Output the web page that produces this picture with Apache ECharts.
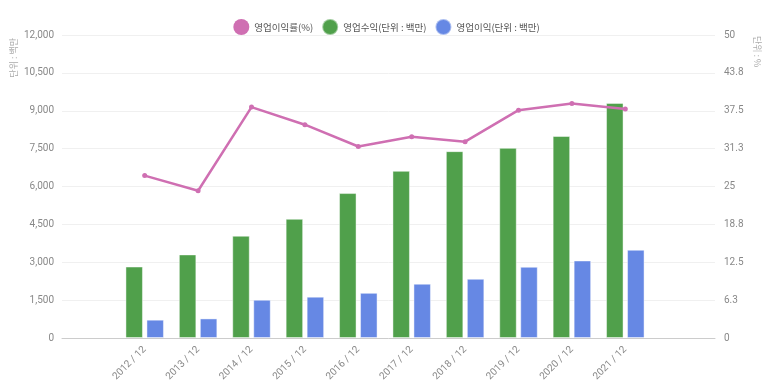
<!DOCTYPE html>
<html>
<head>
<meta charset="utf-8">
<script src="https://cdn.jsdelivr.net/npm/echarts@6/dist/echarts.min.js"></script>
<style>
html,body{margin:0;padding:0;background:#fff;}
#chart{width:773px;height:389px;}
</style>
</head>
<body>
<div id="chart"></div>
<script>
const categories = ['2012 / 12','2013 / 12','2014 / 12','2015 / 12','2016 / 12','2017 / 12','2018 / 12','2019 / 12','2020 / 12','2021 / 12'];
const revenue = [2830, 3310, 4050, 4720, 5740, 6620, 7400, 7530, 8000, 9310];
const operatingProfit = [725, 775, 1515, 1635, 1790, 2150, 2345, 2820, 3070, 3495];
const marginPct = [26.8, 24.3, 38.1, 35.2, 31.6, 33.2, 32.4, 37.6, 38.7, 37.8];
const leftMax = 12000, leftInterval = 1500;
const rightMax = 50, rightInterval = 6.25;

const FONT = '"Noto Sans CJK KR", "Noto Sans", sans-serif';
const NUMFONT = 'Roboto, "Liberation Sans", sans-serif';
const PINK = '#cf6fb2', GREEN = '#50a04b', BLUE = '#6688e4';

const chart = echarts.init(document.getElementById('chart'));
chart.setOption({
  animation: false,
  backgroundColor: '#fff',
  legend: {
    top: 13, left: 'center',
    icon: 'circle', itemWidth: 16, itemHeight: 16, itemGap: 8,
    textStyle: {color: '#555', fontSize: 9.5, fontFamily: FONT},
    data: ['영업이익률(%)', '영업수익(단위 : 백만)', '영업이익(단위 : 백만)']
  },
  graphic: [
    {type: 'text', left: 9, top: 38, rotation: Math.PI/2,
     style: {text: '단위 : 백만', fill: '#aaa', font: '9px ' + FONT}},
    {type: 'text', left: 753, top: 36, rotation: -Math.PI/2,
     style: {text: '단위 : %', fill: '#aaa', font: '9px ' + FONT}}
  ],
  grid: [
    {left: 62, right: 58, top: 35, bottom: 51},
    {left: 118, right: 121, top: 35, bottom: 51}
  ],
  xAxis: [
    {type: 'value', gridIndex: 0, min: 0, max: 1, axisLabel: {show: false}, axisTick: {show: false},
     splitLine: {show: false}, axisLine: {show: true, onZero: false, lineStyle: {color: '#ccc'}}},
    {type: 'category', gridIndex: 1, data: categories,
     axisLine: {show: false}, axisTick: {show: false},
     axisLabel: {rotate: 45, color: '#888', fontSize: 10, fontFamily: NUMFONT, margin: 10, interval: 0}}
  ],
  yAxis: [
    {type: 'value', gridIndex: 0, min: 0, max: leftMax, interval: leftInterval, position: 'left',
     axisLine: {show: false}, axisTick: {show: false},
     axisLabel: {color: '#888', fontSize: 10, fontFamily: NUMFONT, margin: 8,
       formatter: v => v.toLocaleString('en-US')},
     splitLine: {lineStyle: {color: '#f0f0f0'}}},
    {type: 'value', gridIndex: 0, min: 0, max: rightMax, interval: rightInterval, position: 'right',
     axisLine: {show: false}, axisTick: {show: false},
     axisLabel: {color: '#888', fontSize: 10, fontFamily: NUMFONT, margin: 9,
       formatter: v => String(parseFloat(v.toFixed(1)))},
     splitLine: {show: false}},
    {type: 'value', gridIndex: 1, min: 0, max: leftMax, show: false, splitLine: {show: false}},
    {type: 'value', gridIndex: 1, min: 0, max: rightMax, show: false, splitLine: {show: false}}
  ],
  series: [
    {name: '영업이익률(%)', type: 'line', xAxisIndex: 1, yAxisIndex: 3, data: marginPct,
     z: 5, color: PINK, lineStyle: {width: 2.5, color: PINK},
     symbol: 'circle', symbolSize: 5, itemStyle: {color: PINK}},
    {name: '영업수익(단위 : 백만)', type: 'bar', xAxisIndex: 1, yAxisIndex: 2, data: revenue,
     barWidth: 17.5, barGap: '20%', color: GREEN,
     itemStyle: {color: GREEN, borderColor: 'rgba(255,255,255,0.45)', borderWidth: 1}},
    {name: '영업이익(단위 : 백만)', type: 'bar', xAxisIndex: 1, yAxisIndex: 2, data: operatingProfit,
     barWidth: 17.5, barGap: '20%', color: BLUE,
     itemStyle: {color: BLUE, borderColor: 'rgba(255,255,255,0.45)', borderWidth: 1}}
  ]
});
</script>
</body>
</html>
